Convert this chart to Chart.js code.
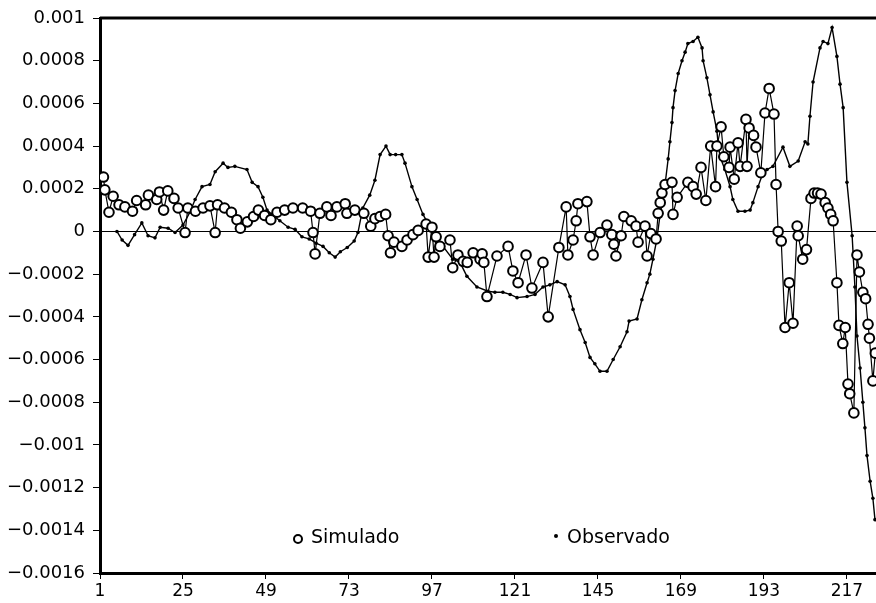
<!DOCTYPE html>
<html>
<head>
<meta charset="utf-8">
<script src="https://cdn.jsdelivr.net/npm/chart.js@4.4.1/dist/chart.umd.min.js"></script>
<style>
  body { margin: 0; background: #fff; }
  #c { display: block; }
</style>
</head>
<body>
<canvas id="c" width="876" height="603"></canvas>
<script>
// 横軸の目盛り
const xTicks = [1, 25, 49, 73, 97, 121, 145, 169, 193, 217];

// Simulado（白抜きの丸）: x と 値(×1e-4)
const simX = [2.0, 2.4, 3.6, 4.8, 6.5, 8.2, 10.4, 11.6, 14.2, 15.0, 17.4, 18.2, 19.4, 20.6, 22.4, 23.6, 25.6, 26.4, 28.6, 30.8,
  32.8, 34.3, 35.0, 37.0, 39.0, 40.6, 41.6, 43.6, 45.4, 46.8, 48.6, 50.4, 52.2, 54.4, 56.8, 59.6, 61.9, 62.6, 63.2, 64.6,
  66.6, 67.8, 69.5, 71.9, 72.4, 74.7, 77.3, 79.3, 80.5, 82.0, 83.6, 84.3, 85.0, 86.0, 88.3, 89.8, 91.5, 93.0, 95.3, 95.9,
  97.0, 97.6, 98.2, 99.3, 102.2, 103.0, 104.5, 106.0, 107.2, 108.9, 110.9, 111.5, 112.0, 112.9, 115.8, 119.0, 120.4, 121.9, 124.2, 125.9,
  129.1, 130.6, 133.7, 135.8, 136.3, 137.8, 138.7, 139.2, 141.8, 142.7, 143.6, 145.6, 147.6, 149.0, 149.6, 150.2, 151.7, 152.5, 154.6, 156.0,
  156.6, 158.6, 159.2, 160.3, 161.8, 162.4, 163.0, 163.5, 164.4, 166.4, 166.7, 167.9, 171.0, 172.5, 173.4, 174.8, 176.2, 177.6, 179.0, 179.4,
  180.6, 181.4, 182.9, 183.2, 184.4, 185.5, 186.1, 187.8, 188.1, 188.7, 190.0, 190.7, 192.1, 193.3, 194.5, 195.9, 196.5, 197.1, 198.0, 199.1,
  200.3, 201.4, 202.6, 202.9, 204.2, 205.3, 206.6, 207.5, 208.5, 209.5, 210.7, 211.5, 212.3, 213.0, 214.1, 214.7, 215.8, 216.5, 217.3, 217.8,
  219.0, 219.9, 220.6, 221.6, 222.4, 223.1, 223.5, 224.5, 225.2];
const simY = [2.55, 1.95, 0.9, 1.65, 1.25, 1.15, 0.95, 1.45, 1.25, 1.7, 1.5, 1.85, 1.0, 1.9, 1.55, 1.1, -0.05, 1.1, 0.95, 1.1,
  1.2, -0.05, 1.25, 1.1, 0.9, 0.55, 0.15, 0.45, 0.7, 1.0, 0.75, 0.55, 0.9, 1.0, 1.1, 1.1, 0.95, -0.05, -1.05, 0.85,
  1.15, 0.75, 1.15, 1.3, 0.85, 1.0, 0.85, 0.25, 0.6, 0.7, 0.8, -0.2, -1.0, -0.5, -0.7, -0.4, -0.15, 0.05, 0.35, -1.2,
  0.2, -1.2, -0.25, -0.7, -0.4, -1.7, -1.1, -1.4, -1.45, -1.0, -1.3, -1.05, -1.45, -3.05, -1.15, -0.7, -1.85, -2.4, -1.1, -2.65,
  -1.45, -4.0, -0.75, 1.15, -1.1, -0.4, 0.5, 1.3, 1.4, -0.25, -1.1, -0.05, 0.3, -0.15, -0.6, -1.15, -0.2, 0.7, 0.5, 0.25,
  -0.5, 0.25, -1.15, -0.1, -0.35, 0.85, 1.35, 1.8, 2.2, 2.3, 0.8, 1.6, 2.3, 2.1, 1.75, 3.0, 1.45, 4.0, 2.1, 4.0,
  4.9, 3.5, 3.0, 3.95, 2.45, 4.15, 3.05, 5.25, 3.05, 4.85, 4.5, 3.95, 2.75, 5.55, 6.7, 5.5, 2.2, 0.0, -0.45, -4.5,
  -2.4, -4.3, 0.25, -0.2, -1.3, -0.85, 1.55, 1.8, 1.8, 1.75, 1.35, 1.1, 0.8, 0.5, -2.4, -4.4, -5.25, -4.5, -7.15, -7.6,
  -8.5, -1.1, -1.9, -2.85, -3.15, -4.35, -5.0, -7.0, -5.7];

// Observado（小さな黒点）: x と 値(×1e-4)
const obsX = [5.9, 7.4, 9.1, 11.0, 13.1, 14.9, 16.9, 18.4, 20.7, 22.7, 25.0, 27.0, 28.5, 30.5, 32.8, 34.3, 36.6, 38.0, 40.0, 43.5,
  45.0, 46.7, 48.1, 49.3, 50.7, 53.0, 55.4, 57.4, 59.4, 61.5, 63.5, 65.5, 67.3, 69.0, 70.5, 72.5, 74.5, 75.6, 77.0, 79.0,
  80.5, 82.0, 83.7, 84.9, 86.5, 88.3, 89.2, 91.2, 92.7, 94.4, 96.4, 98.5, 100.2, 103.0, 105.1, 107.1, 110.0, 113.2, 115.2, 117.5,
  119.6, 121.6, 124.5, 126.8, 129.1, 131.1, 133.2, 135.5, 136.9, 137.8, 139.8, 141.3, 142.7, 144.1, 145.6, 147.6, 149.4, 151.4, 153.4, 154.0,
  156.3, 157.7, 159.2, 160.0, 160.9, 162.0, 162.9, 164.4, 165.3, 165.8, 166.4, 166.7, 167.3, 168.2, 169.3, 170.2, 171.0, 172.5, 173.9, 175.1,
  175.4, 176.5, 177.4, 178.3, 179.4, 179.7, 180.3, 181.7, 183.2, 184.0, 185.5, 187.5, 189.0, 189.8, 191.3, 192.4, 193.9, 195.6, 198.5, 200.5,
  202.9, 204.9, 205.7, 206.3, 207.2, 209.2, 210.1, 211.5, 212.7, 214.1, 215.0, 215.9, 217.0, 218.5, 219.3, 219.9, 220.8, 221.6, 222.2, 222.8,
  223.7, 224.5, 225.1];
const obsY = [0.0, -0.4, -0.65, -0.15, 0.4, -0.2, -0.3, 0.2, 0.15, -0.05, 0.3, 0.9, 1.5, 2.1, 2.2, 2.8, 3.2, 3.0, 3.05, 2.9,
  2.3, 2.1, 1.6, 1.0, 0.8, 0.5, 0.2, 0.1, -0.25, -0.35, -0.55, -0.7, -1.0, -1.2, -0.95, -0.75, -0.45, -0.05, 1.1, 1.7,
  2.4, 3.6, 4.0, 3.6, 3.6, 3.6, 3.2, 2.1, 1.5, 0.8, 0.2, -0.4, -0.7, -1.3, -1.45, -2.1, -2.6, -2.8, -2.85, -2.85,
  -2.95, -3.1, -3.05, -2.95, -2.6, -2.5, -2.35, -2.5, -3.05, -3.65, -4.6, -5.2, -5.9, -6.2, -6.55, -6.55, -6.0, -5.4, -4.7, -4.2,
  -4.1, -3.2, -2.4, -2.0, -1.3, -0.4, 0.7, 2.2, 3.4, 4.2, 5.1, 5.8, 6.6, 7.4, 8.0, 8.4, 8.8, 8.9, 9.1, 8.6,
  8.0, 7.2, 6.4, 5.6, 4.7, 4.2, 3.5, 2.9, 2.1, 1.5, 0.95, 0.95, 1.0, 1.35, 2.1, 2.6, 2.9, 3.05, 3.95, 3.05,
  3.3, 4.2, 4.1, 5.4, 7.0, 8.6, 8.9, 8.8, 9.55, 8.2, 6.9, 5.8, 2.3, -0.2, -2.6, -4.9, -6.4, -8.0, -9.2, -10.5,
  -11.7, -12.5, -13.5];

const toPts = (xs, ys) => xs.map((x, i) => ({ x: x, y: ys[i] * 1e-4 }));

// 枠の上辺と凡例を描く
const framePlugin = {
  id: 'frame',
  afterDraw(chart) {
    const c = chart.ctx, a = chart.chartArea;
    c.save();
    c.strokeStyle = '#000';
    c.lineWidth = 3;
    c.beginPath();
    c.moveTo(a.left, a.top);
    c.lineTo(a.right, a.top);
    c.stroke();

    // 凡例
    c.font = '19px "DejaVu Sans"';
    c.fillStyle = '#000';
    c.textBaseline = 'middle';
    c.lineWidth = 2;
    c.beginPath();
    c.arc(298, 539, 4, 0, Math.PI * 2);
    c.stroke();
    c.fillText('Simulado', 311, 538);
    c.beginPath();
    c.arc(556, 536, 2, 0, Math.PI * 2);
    c.fill();
    c.fillText('Observado', 567, 538);
    c.restore();
  }
};

const fmt = v => {
  const s = String(Number(v.toFixed(4)));
  return s.replace('-', '\u2212');
};

new Chart(document.getElementById('c'), {
  type: 'line',
  data: {
    datasets: [
      {
        label: 'Simulado',
        data: toPts(simX, simY),
        borderColor: '#000',
        borderWidth: 1.2,
        pointRadius: 4.8,
        pointBorderWidth: 2,
        pointBackgroundColor: '#fff',
        pointBorderColor: '#000',
        tension: 0
      },
      {
        label: 'Observado',
        data: toPts(obsX, obsY),
        borderColor: '#000',
        borderWidth: 1.4,
        pointRadius: 1.8,
        pointBorderWidth: 0,
        pointBackgroundColor: '#000',
        tension: 0
      }
    ]
  },
  options: {
    responsive: false,
    animation: false,
    layout: { autoPadding: false, padding: { top: 18, right: 0, left: 0, bottom: 0 } },
    plugins: { legend: { display: false }, tooltip: { enabled: false } },
    scales: {
      x: {
        type: 'linear',
        min: 1,
        max: 225.4,
        afterBuildTicks: s => { s.ticks = xTicks.map(v => ({ value: v })); },
        afterFit: s => { s.height = 30; s.paddingRight = 0; s.paddingLeft = 0; },
        border: { color: '#000', width: 3 },
        grid: { drawOnChartArea: false, color: '#000', tickLength: 6 },
        ticks: {
          color: '#000',
          font: { family: '"DejaVu Sans"', size: 17 },
          padding: 2,
          maxRotation: 0,
          autoSkip: false,
          callback: v => String(v)
        }
      },
      y: {
        min: -0.0016,
        max: 0.001,
        afterFit: s => { s.width = 100; s.paddingTop = 0; s.paddingBottom = 0; },
        border: { color: '#000', width: 3 },
        grid: {
          color: ctx => (ctx.tick && Math.abs(ctx.tick.value) < 1e-9) ? '#000' : 'rgba(0,0,0,0)',
          tickColor: '#000',
          lineWidth: 1,
          tickLength: 7
        },
        ticks: {
          stepSize: 0.0002,
          color: '#000',
          font: { family: '"DejaVu Sans"', size: 18 },
          padding: 8,
          callback: v => fmt(v)
        }
      }
    }
  },
  plugins: [framePlugin]
});
</script>
</body>
</html>
